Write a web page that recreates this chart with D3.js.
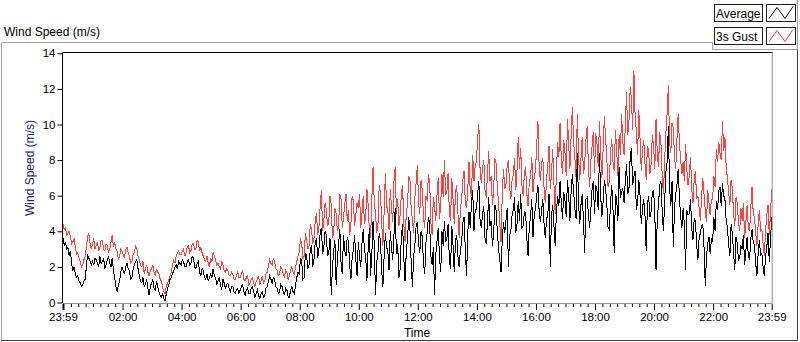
<!DOCTYPE html>
<html><head><meta charset="utf-8">
<script src="https://cdn.jsdelivr.net/npm/d3@7"></script>
<style>
body{margin:0;background:#fff}
svg{display:block}
text{font-family:"Liberation Sans",Arial,sans-serif}
</style>
</head><body>
<svg id="chart" width="800" height="342"></svg>
<script>
// ---- data (2.5-minute samples from 23:59 to 23:59 next day) ----
const seriesNames = ["Average", "3s Gust"];
const timeLabels = ["23:59","02:00","04:00","06:00","08:00","10:00","12:00","14:00","16:00","18:00","20:00","22:00","23:59"];
const majorTimes = [0,121,241,361,481,601,721,841,961,1081,1201,1321,1440];
const yTicks = [0,2,4,6,8,10,12,14];

const gust = [
4.4,4.1,4.2,3.8,3.9,4.0,3.7,3.3,3.4,3.6,3.1,2.7,2.8,2.5,2.3,2.0,2.1,2.4,2.6,3.1,3.7,3.9,3.3,3.0,
3.3,3.6,3.0,3.2,3.4,2.9,3.1,3.5,3.5,3.0,2.9,3.3,3.2,2.8,3.0,3.4,3.8,3.1,3.4,3.0,2.9,2.4,2.6,3.0,
2.9,2.7,2.5,3.0,3.1,2.8,2.6,2.2,2.3,2.7,2.8,3.2,3.0,2.6,2.4,2.1,2.0,2.3,1.6,1.9,2.1,1.7,1.5,1.8,
1.9,2.1,1.7,1.5,1.9,1.7,1.6,1.3,1.2,0.8,0.6,0.5,0.9,1.1,1.3,1.5,1.7,2.1,2.4,2.2,2.6,2.8,2.9,2.7,
2.7,2.9,3.0,2.6,2.8,3.1,3.2,2.8,2.9,3.3,3.3,3.0,3.0,3.5,3.4,2.9,3.1,2.8,2.6,2.4,2.3,2.6,2.2,2.0,
2.5,2.3,2.8,2.6,2.4,2.1,2.2,2.0,1.9,2.3,2.1,1.8,1.7,1.9,1.8,1.5,1.5,1.7,1.6,1.3,1.3,1.5,1.7,1.4,
1.4,1.6,1.8,1.3,1.2,1.4,1.5,1.0,1.1,1.3,1.4,1.1,0.9,1.2,1.3,1.5,1.0,1.2,1.5,1.1,1.2,1.6,1.7,2.1,
2.4,2.2,2.1,2.5,2.3,1.9,1.8,1.5,1.6,2.0,1.9,1.6,1.4,1.8,1.7,1.3,1.5,1.8,2.0,1.7,1.6,2.0,2.3,2.6,
2.8,3.6,3.3,2.5,2.6,3.9,3.5,3.0,3.2,4.4,4.1,3.3,3.6,4.6,5.0,3.8,4.2,5.4,6.3,4.0,4.6,5.6,5.2,4.3,
4.5,6.0,5.5,3.6,3.9,5.3,5.0,4.0,4.3,6.1,5.8,4.2,4.8,5.5,6.1,4.6,5.2,3.8,4.4,6.0,5.7,4.3,4.9,5.6,
5.3,6.1,4.2,5.0,6.0,4.4,4.8,6.4,5.5,4.1,3.6,5.8,7.6,5.6,5.0,3.9,4.4,6.6,6.2,4.5,3.2,5.1,7.3,5.4,
5.2,4.1,6.4,5.3,4.5,6.8,7.6,5.0,5.8,4.3,4.9,6.1,6.6,4.4,3.4,5.0,5.5,7.1,6.9,5.2,4.7,3.9,5.9,6.7,
7.7,5.6,5.0,6.9,6.3,4.8,4.2,6.0,5.7,7.2,6.8,4.5,3.8,5.9,5.4,4.6,6.1,7.0,4.7,5.5,7.2,5.9,8.0,6.1,
6.2,7.3,5.1,4.6,7.0,5.8,4.4,6.2,6.6,5.0,3.6,5.3,5.8,6.9,7.4,5.6,5.3,6.4,7.9,6.2,6.0,8.3,6.8,7.7,
7.9,9.2,10.0,7.4,6.7,7.6,8.0,6.3,5.9,7.2,8.5,6.8,7.1,5.5,6.3,8.1,7.8,6.5,5.6,4.4,3.4,6.0,7.5,6.4,
6.6,7.7,8.0,6.5,5.8,6.9,7.2,8.1,6.3,7.4,9.3,7.5,8.7,6.6,6.0,7.3,7.6,6.1,5.4,6.8,7.0,8.2,6.2,7.1,
7.4,8.8,10.2,7.6,6.8,7.9,8.1,6.4,5.6,6.9,7.7,8.8,6.4,7.2,8.6,6.7,5.0,7.3,9.0,8.2,10.1,8.0,7.2,9.1,
8.4,7.1,10.3,8.9,7.5,9.4,11.0,9.0,8.2,7.0,10.6,8.3,6.9,8.1,9.3,7.2,7.8,9.1,9.9,7.7,6.5,7.9,8.8,9.6,
7.3,9.5,8.9,7.6,10.2,8.4,7.0,8.6,10.5,9.2,8.1,6.5,6.8,8.4,9.2,7.9,7.4,9.7,8.6,7.1,9.4,8.3,10.6,9.0,
8.3,9.9,11.8,9.4,10.2,12.1,11.4,9.7,13.0,10.5,9.6,8.3,10.8,9.2,7.4,8.6,9.1,7.8,6.9,8.8,8.5,7.2,7.8,9.4,
8.8,7.5,10.3,8.4,7.6,9.6,8.9,7.1,6.1,8.0,9.5,10.6,12.2,9.0,8.4,10.1,9.8,8.2,7.5,9.2,10.6,9.0,8.0,7.2,
7.9,6.8,8.9,7.5,6.6,7.1,8.2,6.4,5.6,6.9,7.4,5.8,6.0,5.3,4.6,5.9,7.0,6.1,5.2,4.5,6.3,5.6,4.9,5.8,
5.8,7.1,6.5,8.6,7.9,9.0,8.4,8.0,10.2,8.5,9.3,7.6,7.0,6.2,5.5,6.9,6.4,5.0,4.3,5.9,5.6,4.5,4.0,5.3,
4.6,5.6,3.6,4.5,5.5,4.2,4.0,5.3,6.5,5.0,4.8,3.9,3.2,4.4,5.2,4.0,4.1,3.3,2.6,4.0,4.9,5.5,3.8,5.0,
6.4];

const average = [
3.6,3.2,3.4,3.0,3.1,2.6,2.9,2.2,1.8,2.0,1.6,1.4,1.5,1.2,1.1,0.9,1.0,1.2,1.3,2.0,2.7,2.5,2.3,2.1,
2.3,2.1,2.5,2.4,2.2,2.0,2.6,2.2,2.3,2.5,1.9,2.1,2.4,2.6,2.2,2.0,2.5,1.8,1.4,0.9,0.6,1.0,1.2,1.7,
2.0,1.8,1.6,2.0,2.2,1.9,1.8,1.3,1.4,1.9,2.1,2.3,2.4,1.9,1.5,1.2,1.1,1.4,0.9,1.0,1.3,0.8,0.4,0.9,
1.1,1.3,0.8,0.7,1.2,0.9,0.6,0.4,0.3,0.5,0.2,0.1,0.5,0.8,1.0,1.3,1.4,1.6,1.8,2.0,2.1,1.9,2.3,2.2,
2.1,2.4,2.3,2.0,2.0,2.3,2.4,2.1,2.2,2.6,2.5,2.0,1.9,2.2,2.3,1.7,1.5,1.9,1.8,1.4,1.3,1.6,1.2,1.4,
1.6,1.4,1.9,1.5,1.4,1.0,1.2,1.4,1.0,0.7,1.3,1.1,0.8,1.0,1.1,0.8,0.6,0.9,0.9,0.6,0.5,0.7,0.8,0.5,
0.7,0.9,1.0,0.6,0.4,0.7,0.8,0.5,0.5,0.8,0.9,0.6,0.3,0.5,0.7,0.4,0.2,0.5,0.6,0.3,0.4,0.8,0.9,1.2,
1.5,1.3,1.1,1.4,1.3,0.9,0.8,0.5,0.6,1.0,0.9,0.6,0.4,0.8,0.7,0.3,0.3,0.7,0.9,0.6,0.5,1.0,1.4,1.7,
1.6,2.5,2.3,1.3,1.4,2.8,2.6,1.9,2.1,3.0,3.2,2.0,2.4,3.4,3.6,2.5,3.0,3.9,4.2,2.7,3.1,4.0,3.8,2.6,
2.8,3.6,0.4,2.0,2.9,3.5,1.0,2.4,3.3,4.1,2.2,1.6,3.8,2.9,2.6,3.7,3.4,2.1,1.3,2.5,3.0,3.8,2.4,1.5,
3.4,2.6,2.0,3.3,4.1,2.9,2.6,1.2,3.0,4.2,1.5,2.7,4.6,3.2,0.4,2.3,2.8,3.9,3.5,1.8,0.9,2.6,3.9,3.1,
2.9,1.8,4.0,3.1,2.4,3.8,5.3,2.7,3.3,1.4,1.9,3.7,4.4,2.5,1.2,2.8,3.6,4.8,4.1,2.2,0.9,2.6,3.2,4.3,
4.5,3.3,2.8,4.0,3.7,2.2,1.6,3.4,3.9,4.8,4.4,2.6,2.1,3.1,0.4,2.7,3.5,4.2,2.5,1.7,4.0,3.2,4.6,3.4,
3.6,4.4,2.4,1.9,4.3,3.2,1.7,3.5,3.8,2.6,2.0,3.0,3.4,4.5,4.8,2.9,1.5,3.9,5.1,4.2,5.6,6.3,4.0,5.2,
5.2,6.1,6.8,4.5,4.2,5.0,5.4,3.6,3.3,4.6,5.9,4.3,4.6,3.2,3.8,5.5,5.2,4.0,3.0,2.4,1.7,3.5,4.5,3.9,
4.6,5.3,2.0,3.8,4.0,4.9,5.2,5.9,3.9,4.4,5.7,4.6,6.1,4.2,4.3,5.1,5.0,3.6,2.6,4.3,4.8,5.8,3.7,4.9,
5.3,6.0,6.6,5.1,4.5,5.2,5.8,4.4,3.6,4.7,4.9,6.1,2.0,4.8,5.5,4.3,3.2,5.0,6.0,5.4,6.8,5.6,4.7,6.2,
5.7,4.8,6.9,6.0,4.6,6.3,7.2,6.2,5.3,4.7,8.4,5.6,4.4,5.5,6.1,4.6,2.8,5.8,5.9,5.0,4.2,5.2,6.4,6.8,
5.0,6.6,6.3,5.2,8.4,6.0,4.8,5.7,6.9,6.4,5.5,4.2,4.1,5.6,6.6,5.3,2.8,6.1,5.8,4.6,7.6,5.9,6.2,6.4,
5.6,6.8,7.8,6.1,6.4,8.2,8.7,6.6,7.1,7.4,5.2,5.6,6.9,6.0,4.4,5.3,5.8,4.9,2.9,5.5,6.0,4.8,5.1,6.2,
6.3,5.0,1.8,4.7,5.5,6.6,6.8,5.1,4.0,5.7,7.3,7.9,9.9,6.5,5.4,6.8,3.1,5.3,6.1,6.6,7.5,5.9,4.8,4.2,
5.3,4.4,1.8,5.2,4.9,5.0,5.8,4.2,3.5,4.7,4.6,3.3,2.4,3.6,3.9,4.3,4.4,3.1,0.9,2.6,3.3,3.7,2.7,3.6,
3.4,4.8,4.0,5.7,5.2,6.3,6.5,5.4,6.7,6.0,5.8,4.6,4.2,3.3,2.6,4.4,3.9,2.8,1.8,3.7,3.3,2.4,2.5,3.2,
3.0,3.8,2.1,2.9,3.7,2.6,2.4,3.6,4.1,3.4,3.2,2.2,1.5,2.8,3.5,2.6,2.8,2.0,1.5,2.6,3.1,3.9,2.3,3.5,
4.8];

// ---- layout ----
const svg = d3.select("#chart");
const plot = {left: 63, right: 771.7, top: 52.5, bottom: 302.5};
const x = d3.scaleLinear().domain([0, 1440]).range([plot.left, plot.right]);
const y = d3.scaleLinear().domain([0, 14]).range([302.5, 53.3]);
const FONT = 11.5;

// outer panel frame
svg.append("path").attr("d","M1.5,341.5 V42.5 H712.5").attr("fill","none").attr("stroke","#a0a0a0");
svg.append("path").attr("d","M712.5,42.5 V49.5 H797.5").attr("fill","none").attr("stroke","#a0a0a0");
svg.append("path").attr("d","M797.5,0 V49.5").attr("fill","none").attr("stroke","#a0a0a0");
svg.append("path").attr("d","M797.5,49.5 V340.5 H1.5").attr("fill","none").attr("stroke","#404040");

// top-left label
svg.append("text").attr("x",4).attr("y",36).attr("font-size",12).attr("fill","#000").text("Wind Speed (m/s)");

// legend
const legendY = [4.5, 27.5];
const legendColors = ["#000000", "#ff4040"];
seriesNames.forEach((name, i) => {
  const g = svg.append("g");
  g.append("rect").attr("x",714.5).attr("y",legendY[i]).attr("width",48).attr("height",17)
    .attr("fill","#fff").attr("stroke","#202020");
  g.append("text").attr("x",716).attr("y",legendY[i]+13).attr("font-size",12).attr("fill","#000").text(name);
  g.append("rect").attr("x",766.5).attr("y",legendY[i]).attr("width",29).attr("height",17)
    .attr("fill","#fff").attr("stroke","#202020");
  const oy = legendY[i];
  g.append("path").attr("d",`M769,${oy+14} L777,${oy+3} L785,${oy+14} L793,${oy+2}`)
    .attr("fill","none").attr("stroke",legendColors[i]).attr("stroke-width",1);
});

// plot background
svg.append("rect").attr("x",plot.left).attr("y",plot.top).attr("width",plot.right-plot.left).attr("height",plot.bottom-plot.top).attr("fill","#fff");

// data lines (samples evenly spaced over the 24 h window)
const line = (arr) => {
  const step = 1440 / (arr.length - 1);
  return d3.line().x((d,i)=>x(i*step)).y(d=>y(d))(arr);
};
svg.append("path").attr("d", line(gust)).attr("fill","none").attr("stroke","#ff4040").attr("stroke-width",1).attr("shape-rendering","crispEdges");
svg.append("path").attr("d", line(average)).attr("fill","none").attr("stroke","#000").attr("stroke-width",1).attr("shape-rendering","crispEdges");

// plot frame
svg.append("path").attr("d",`M${plot.left-0.5},303 V${plot.top} H${plot.right+1}`).attr("fill","none").attr("stroke","#000");
svg.append("path").attr("d",`M${plot.left},303.5 H${plot.right+0.5} V${plot.top}`).attr("fill","none").attr("stroke","#909090");

// x axis
const minorTimes = d3.range(16, 1440, 15).filter(t => (t - 1) % 120 !== 0);
const xMinor = svg.append("g").attr("transform","translate(0,304)")
  .call(d3.axisBottom(x).tickValues(minorTimes).tickFormat("").tickSize(3));
xMinor.select(".domain").remove();
const xMajor = svg.append("g").attr("transform","translate(0,304)")
  .call(d3.axisBottom(x).tickValues(majorTimes).tickFormat((d,i)=>timeLabels[i]).tickSize(6).tickPadding(3));
xMajor.select(".domain").remove();
xMajor.selectAll("text").attr("font-size",FONT).attr("font-family","Liberation Sans, Arial, sans-serif").attr("fill","#000");
xMajor.selectAll("line").filter((d,i)=>i===0).attr("stroke-width",2);

// y axis
const yAxis = svg.append("g").attr("transform",`translate(${plot.left-0.5},0)`)
  .call(d3.axisLeft(y).tickValues(yTicks).tickSize(5).tickPadding(2));
yAxis.select(".domain").remove();
yAxis.selectAll("text").attr("font-size",FONT).attr("font-family","Liberation Sans, Arial, sans-serif").attr("fill","#000");

// axis titles
svg.append("text").attr("x",417).attr("y",337).attr("text-anchor","middle").attr("font-size",12).attr("fill","#000").text("Time");
svg.append("text").attr("transform","translate(34,168) rotate(-90)").attr("text-anchor","middle")
  .attr("font-size",12).attr("fill","#1a2650").text("Wind Speed (m/s)");
</script>
</body></html>
